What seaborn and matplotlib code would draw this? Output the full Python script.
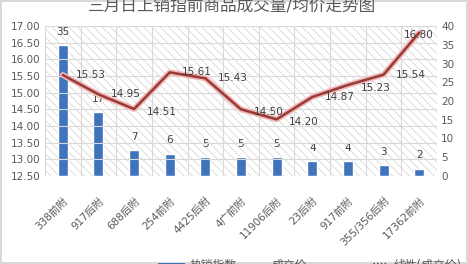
import numpy as np
import matplotlib
matplotlib.use("Agg")
import matplotlib.pyplot as plt
import matplotlib.patheffects as pe
from matplotlib.lines import Line2D
from matplotlib.patches import Rectangle
import seaborn as sns

categories = ["338前附", "917后附", "688后附", "254前附", "4425后附", "4广前附",
              "11906后附", "23后附", "917前附", "355/356后附", "17362前附"]
hot_index = [35, 17, 7, 6, 5, 5, 5, 4, 4, 3, 2]
price = [15.53, 14.95, 14.51, 15.61, 15.43, 14.50, 14.20, 14.87, 15.23, 15.54, 16.80]
left_ticks = [12.5, 13.0, 13.5, 14.0, 14.5, 15.0, 15.5, 16.0, 16.5, 17.0]
right_ticks = [0, 5, 10, 15, 20, 25, 30, 35, 40]
title = "三月日上销指前商品成交量/均价走势图"
legend_labels = ["热销指数", "成交价", "线性(成交价)"]

sns.set_theme(style="white")
plt.rcParams['font.family'] = ['DejaVu Sans', 'Noto Sans CJK SC']
plt.rcParams['hatch.linewidth'] = 0.5

TXT = '#595959'
BLUE = '#3f73bc'
RED = '#983a37'
W, H = 468, 264

fig = plt.figure(figsize=(4.68, 2.64), dpi=100)
ax = fig.add_axes([45/W, 1-176/H, (437-45)/W, 150/H])
n = len(categories)

# hatched plot-area background
ax.add_patch(Rectangle((0, 0), 1, 1, transform=ax.transAxes, facecolor='white',
                       edgecolor='#d0d0d0', hatch='\\\\\\\\', linewidth=0, zorder=0))

sns.barplot(x=categories, y=hot_index, ax=ax, color=BLUE, width=0.28,
            saturation=1, zorder=3)
ax.set_ylim(0, 40)
ax.set_xlim(-0.5, n - 0.5)
for i, v in enumerate(hot_index):
    ax.annotate(str(v), (i, v), xytext=(0, 9.5), textcoords='offset points',
                ha='center', va='center', fontsize=7.5, color='#404040', zorder=5)

ax2 = ax.twinx()
ax2.patch.set_visible(False)
x_pos = np.arange(n)
sns.lineplot(x=x_pos, y=price, ax=ax2, color=RED, linewidth=1.8, sort=False,
             path_effects=[pe.Stroke(linewidth=4.2, foreground='#f0b9b8'), pe.Normal()])
ax2.set_ylim(12.5, 17.0)
ax2.set_xlim(-0.5, n - 0.5)
for i, v in enumerate(price):
    if i == n - 1:
        ax2.annotate(f"{v:.2f}", (i, v), xytext=(0, -2), textcoords='offset points',
                     ha='center', va='center', fontsize=7.5, color='#404040')
    else:
        dy = -2 if i in (2, 5, 6, 8) else 0
        ax2.annotate(f"{v:.2f}", (i, v), xytext=(9, dy), textcoords='offset points',
                     ha='left', va='center', fontsize=7.5, color='#404040')

# gridlines
for y in left_ticks:
    ax2.axhline(y, color='#d9d9d9', linewidth=0.8, zorder=0)
for xb in np.arange(-0.5, n, 1.0):
    ax.axvline(xb, color='#d9d9d9', linewidth=0.8, zorder=1)

# axis sides: bars (hot index) on right, price on left
ax.set_yticks(right_ticks)
ax.set_yticklabels([str(t) for t in right_ticks])
ax.yaxis.tick_right()
ax2.set_yticks(left_ticks)
ax2.set_yticklabels([f"{t:.2f}" for t in left_ticks])
ax2.yaxis.tick_left()

for a in (ax, ax2):
    for s in a.spines.values():
        s.set_visible(False)
    a.tick_params(length=0, pad=3, labelsize=7.5, labelcolor=TXT)
    a.set_xlabel('')
    a.set_ylabel('')

ax.set_xticks(range(n))
ax.set_xticklabels(categories, rotation=45, ha='right', rotation_mode='anchor',
                   fontsize=7.5, color=TXT)
ax.tick_params(axis='x', pad=14)
ax2.tick_params(axis='x', labelbottom=False)

fig.text(0.496, 1 - 6/H, title, ha='center', va='center', fontsize=12, color=TXT)

# legend (bottom, partly cut by the image edge)
ly = 265
fig.add_artist(Rectangle((158/W, 1 - (ly + 2.5)/H), 27/W, 5/H, facecolor=BLUE,
                         edgecolor='none', transform=fig.transFigure))
fig.text(189/W, 1 - ly/H, legend_labels[0], ha='left', va='center', fontsize=8.5, color=TXT)
fig.add_artist(Line2D([241/W, 268/W], [1 - ly/H, 1 - ly/H], color=RED, linewidth=1.8,
                      transform=fig.transFigure))
fig.text(272/W, 1 - ly/H, legend_labels[1], ha='left', va='center', fontsize=8.5, color=TXT)
fig.add_artist(Line2D([373/W, 387/W], [1 - (ly - 2)/H, 1 - (ly - 2)/H], color='#404040',
                      linewidth=1.0, linestyle=':', transform=fig.transFigure))
fig.text(393/W, 1 - ly/H, legend_labels[2], ha='left', va='center', fontsize=8.5, color=TXT)

fig.patch.set_edgecolor('#d9d9d9')
fig.patch.set_linewidth(1.5)

fig.savefig('out.png', dpi=100)
